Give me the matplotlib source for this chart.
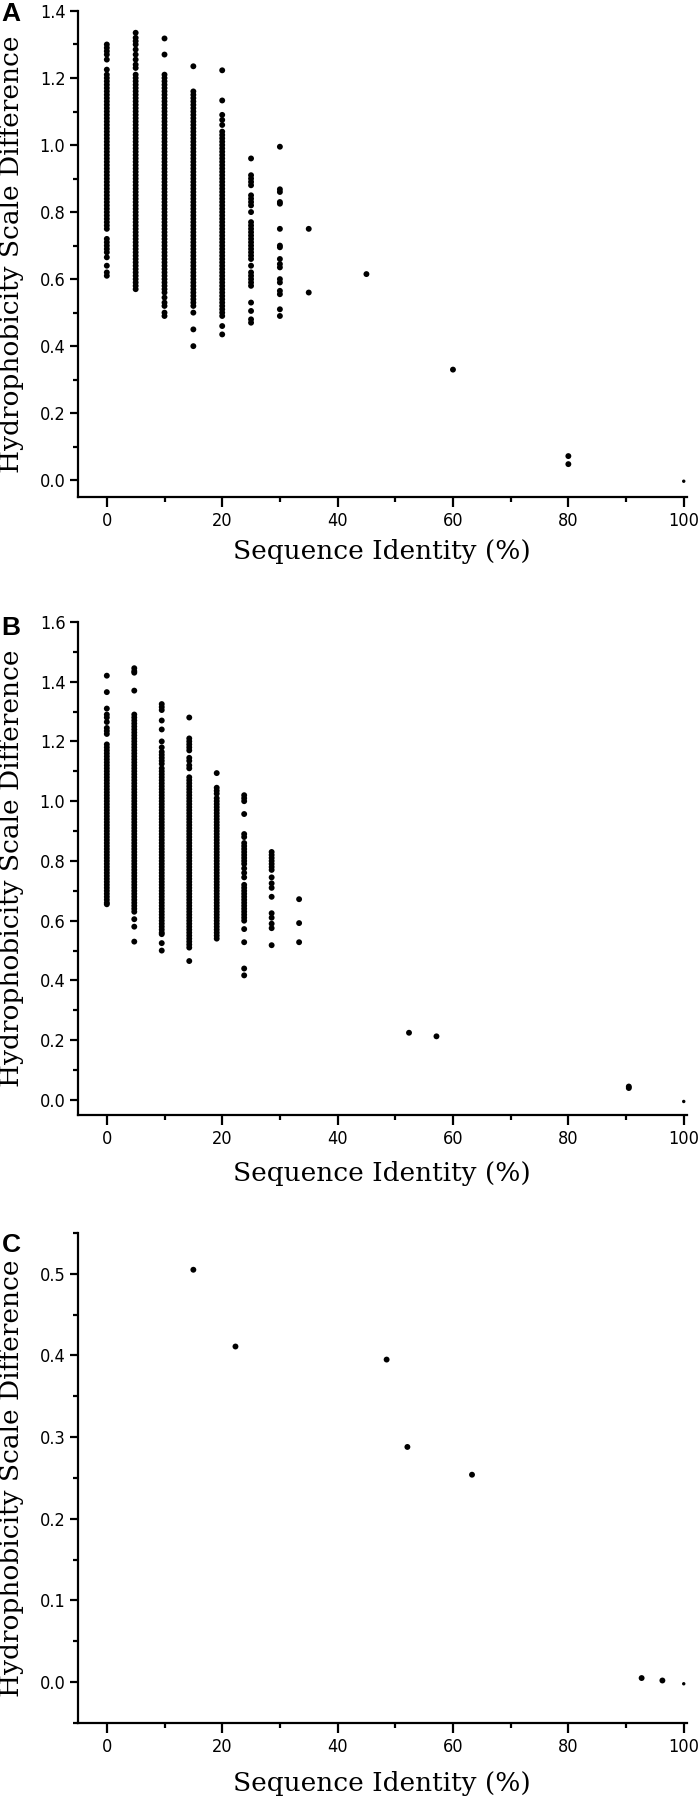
"""Hydrophobicity scale difference against sequence identity, three panels."""

import matplotlib
matplotlib.use("Agg")
import matplotlib.pyplot as plt
from matplotlib import font_manager
from matplotlib.ticker import MultipleLocator


# Panel A: pairs binned at 5 % identity steps
a_identity = [0, 5, 10, 15, 20, 25, 30, 35, 45, 60, 80, 100]
a_diff = [
    [1.30, 1.29, 1.28, 1.27, 1.255, 1.225,
     1.21, 1.20, 1.19, 1.18, 1.17, 1.16, 1.15, 1.14, 1.13, 1.12,
     1.11, 1.10, 1.09, 1.08, 1.07, 1.06, 1.05, 1.04, 1.03, 1.02,
     1.01, 1.00, 0.99, 0.98, 0.97, 0.96, 0.95, 0.94, 0.93, 0.92,
     0.91, 0.90, 0.89, 0.88, 0.87, 0.86, 0.85, 0.84, 0.83, 0.82,
     0.81, 0.80, 0.79, 0.78, 0.77, 0.76, 0.75,
     0.72, 0.71, 0.70, 0.69, 0.68, 0.665, 0.64, 0.62, 0.61],
    [1.335, 1.32, 1.31, 1.30, 1.285, 1.27, 1.255, 1.24, 1.23,
     1.21, 1.20, 1.19, 1.18, 1.17, 1.16, 1.15, 1.14, 1.13, 1.12,
     1.11, 1.10, 1.09, 1.08, 1.07, 1.06, 1.05, 1.04, 1.03, 1.02,
     1.01, 1.00, 0.99, 0.98, 0.97, 0.96, 0.95, 0.94, 0.93, 0.92,
     0.91, 0.90, 0.89, 0.88, 0.87, 0.86, 0.85, 0.84, 0.83, 0.82,
     0.81, 0.80, 0.79, 0.78, 0.77, 0.76, 0.75, 0.74, 0.73, 0.72,
     0.71, 0.70, 0.69, 0.68, 0.67, 0.66, 0.65, 0.64, 0.63, 0.62,
     0.61, 0.60, 0.59, 0.58, 0.57],
    [1.318, 1.27,
     1.21, 1.20, 1.19, 1.18, 1.17, 1.16, 1.15, 1.14, 1.13, 1.12,
     1.11, 1.10, 1.09, 1.08, 1.07, 1.06, 1.05, 1.04, 1.03, 1.02,
     1.01, 1.00, 0.99, 0.98, 0.97, 0.96, 0.95, 0.94, 0.93, 0.92,
     0.91, 0.90, 0.89, 0.88, 0.87, 0.86, 0.85, 0.84, 0.83, 0.82,
     0.81, 0.80, 0.79, 0.78, 0.77, 0.76, 0.75, 0.74, 0.73, 0.72,
     0.71, 0.70, 0.69, 0.68, 0.67, 0.66, 0.65, 0.64, 0.63, 0.62,
     0.61, 0.60, 0.59, 0.58, 0.57, 0.56,
     0.545, 0.53, 0.52, 0.50, 0.49],
    [1.235,
     1.16, 1.15, 1.14, 1.13, 1.12,
     1.11, 1.10, 1.09, 1.08, 1.07, 1.06, 1.05, 1.04, 1.03, 1.02,
     1.01, 1.00, 0.99, 0.98, 0.97, 0.96, 0.95, 0.94, 0.93, 0.92,
     0.91, 0.90, 0.89, 0.88, 0.87, 0.86, 0.85, 0.84, 0.83, 0.82,
     0.81, 0.80, 0.79, 0.78, 0.77, 0.76, 0.75, 0.74, 0.73, 0.72,
     0.71, 0.70, 0.69, 0.68, 0.67, 0.66, 0.65, 0.64, 0.63, 0.62,
     0.61, 0.60, 0.59, 0.58, 0.57, 0.56, 0.55, 0.54, 0.53, 0.52,
     0.50, 0.45, 0.40],
    [1.223, 1.133, 1.09, 1.075, 1.06,
     1.04, 1.03, 1.02,
     1.01, 1.00, 0.99, 0.98, 0.97, 0.96, 0.95, 0.94, 0.93, 0.92,
     0.91, 0.90, 0.89, 0.88, 0.87, 0.86, 0.85, 0.84, 0.83, 0.82,
     0.81, 0.80, 0.79, 0.78, 0.77, 0.76, 0.75, 0.74, 0.73, 0.72,
     0.71, 0.70, 0.69, 0.68, 0.67, 0.66, 0.65, 0.64, 0.63, 0.62,
     0.61, 0.60, 0.59, 0.58, 0.57, 0.56, 0.55, 0.54, 0.53, 0.52,
     0.51, 0.50, 0.49, 0.46, 0.435],
    [0.96, 0.91, 0.90, 0.89, 0.88, 0.85, 0.84, 0.83, 0.82, 0.80,
     0.77, 0.76, 0.75, 0.74, 0.73, 0.72, 0.71, 0.70, 0.69, 0.68,
     0.67, 0.66, 0.64, 0.62, 0.61, 0.60, 0.59, 0.58,
     0.53, 0.505, 0.48, 0.47],
    [0.995, 0.868, 0.86, 0.83, 0.825, 0.75, 0.70, 0.695, 0.66, 0.645,
     0.635, 0.60, 0.59, 0.565, 0.555, 0.51, 0.49],
    [0.75, 0.56],
    [0.615],
    [0.33],
    [0.072, 0.048],
    [-0.003],
]

# Panel B: pairs binned at 1/21 identity steps
b_identity = [0, 4.76, 9.52, 14.29, 19.05, 23.81, 28.57, 33.33,
              52.38, 57.14, 90.48, 100]
b_diff = [
    [1.42, 1.365, 1.31, 1.29, 1.28, 1.265, 1.245, 1.235, 1.225,
     1.19, 1.18, 1.17, 1.16, 1.15, 1.14, 1.13, 1.12,
     1.11, 1.10, 1.09, 1.08, 1.07, 1.06, 1.05, 1.04, 1.03, 1.02,
     1.01, 1.00, 0.99, 0.98, 0.97, 0.96, 0.95, 0.94, 0.93, 0.92,
     0.91, 0.90, 0.89, 0.88, 0.87, 0.86, 0.85, 0.84, 0.83, 0.82,
     0.81, 0.80, 0.79, 0.78, 0.77, 0.76, 0.75, 0.74, 0.73, 0.72,
     0.71, 0.70, 0.69, 0.68, 0.67, 0.66, 0.655],
    [1.445, 1.435, 1.43, 1.37, 1.29, 1.28, 1.27,
     1.26, 1.25, 1.24, 1.23, 1.22,
     1.21, 1.20, 1.19, 1.18, 1.17, 1.16, 1.15, 1.14, 1.13, 1.12,
     1.11, 1.10, 1.09, 1.08, 1.07, 1.06, 1.05, 1.04, 1.03, 1.02,
     1.01, 1.00, 0.99, 0.98, 0.97, 0.96, 0.95, 0.94, 0.93, 0.92,
     0.91, 0.90, 0.89, 0.88, 0.87, 0.86, 0.85, 0.84, 0.83, 0.82,
     0.81, 0.80, 0.79, 0.78, 0.77, 0.76, 0.75, 0.74, 0.73, 0.72,
     0.71, 0.70, 0.69, 0.68, 0.67, 0.66, 0.65, 0.64, 0.63,
     0.605, 0.58, 0.53],
    [1.325, 1.315, 1.305, 1.27, 1.24, 1.20, 1.18,
     1.165, 1.155, 1.145, 1.135, 1.125,
     1.11, 1.10, 1.09, 1.08, 1.07, 1.06, 1.05, 1.04, 1.03, 1.02,
     1.01, 1.00, 0.99, 0.98, 0.97, 0.96, 0.95, 0.94, 0.93, 0.92,
     0.91, 0.90, 0.89, 0.88, 0.87, 0.86, 0.85, 0.84, 0.83, 0.82,
     0.81, 0.80, 0.79, 0.78, 0.77, 0.76, 0.75, 0.74, 0.73, 0.72,
     0.71, 0.70, 0.69, 0.68, 0.67, 0.66, 0.65, 0.64, 0.63, 0.62,
     0.61, 0.60, 0.59, 0.58, 0.57, 0.56, 0.555,
     0.525, 0.50],
    [1.28, 1.21, 1.20, 1.19, 1.18, 1.17, 1.145, 1.135, 1.12, 1.11,
     1.08, 1.07, 1.06, 1.05, 1.04, 1.03, 1.02,
     1.01, 1.00, 0.99, 0.98, 0.97, 0.96, 0.95, 0.94, 0.93, 0.92,
     0.91, 0.90, 0.89, 0.88, 0.87, 0.86, 0.85, 0.84, 0.83, 0.82,
     0.81, 0.80, 0.79, 0.78, 0.77, 0.76, 0.75, 0.74, 0.73, 0.72,
     0.71, 0.70, 0.69, 0.68, 0.67, 0.66, 0.65, 0.64, 0.63, 0.62,
     0.61, 0.60, 0.59, 0.58, 0.57, 0.56, 0.55, 0.54, 0.53, 0.52,
     0.51, 0.465],
    [1.094,
     1.045, 1.035, 1.025,
     1.01, 1.00, 0.99, 0.98, 0.97, 0.96, 0.95, 0.94, 0.93, 0.92,
     0.91, 0.90, 0.89, 0.88, 0.87, 0.86, 0.85, 0.84, 0.83, 0.82,
     0.81, 0.80, 0.79, 0.78, 0.77, 0.76, 0.75, 0.74, 0.73, 0.72,
     0.71, 0.70, 0.69, 0.68, 0.67, 0.66, 0.65, 0.64, 0.63, 0.62,
     0.61, 0.60, 0.59, 0.58, 0.57, 0.56, 0.55, 0.54],
    [1.02, 1.01, 1.00, 0.957, 0.89, 0.88,
     0.86, 0.85, 0.84, 0.83, 0.82, 0.81, 0.80, 0.79, 0.775, 0.76,
     0.745, 0.72, 0.71, 0.70, 0.69, 0.68, 0.67, 0.66, 0.65, 0.64,
     0.63, 0.62, 0.61, 0.60, 0.572, 0.528, 0.44, 0.417],
    [0.83, 0.82, 0.81, 0.80, 0.79, 0.78, 0.77, 0.745, 0.725, 0.71,
     0.68, 0.625, 0.61, 0.59, 0.575, 0.518],
    [0.672, 0.592, 0.528],
    [0.225],
    [0.213],
    [0.045, 0.040],
    [-0.005],
]

# Panel C: individual pairs
c_identity = [15.0, 22.3, 48.5, 52.1, 63.3, 92.7, 96.3, 100]
c_diff = [0.505, 0.411, 0.395, 0.288, 0.254, 0.005, 0.002, -0.002]


# condensed sans for the numbers if the system has one
cond = font_manager.FontProperties(family="DejaVu Sans", stretch="condensed",
                                   size=13)
if "Condensed" in font_manager.findfont(cond, fallback_to_default=False):
    tick_prop = cond
else:
    tick_prop = font_manager.FontProperties(family="Liberation Sans", size=13)
label_font = "DejaVu Serif"

fig = plt.figure(figsize=(6.98, 18), dpi=100)

# axes boxes in figure fractions: left, bottom, width, height
boxes = [
    (0.1117, 0.7239, 0.872, 0.2700),
    (0.1117, 0.3806, 0.872, 0.2739),
    (0.1117, 0.0428, 0.872, 0.2722),
]
ylims = [(-0.05, 1.4), (-0.05, 1.6), (-0.05, 0.55)]
ymajor = [0.2, 0.2, 0.1]
xlabel_y = [-0.087, -0.093, -0.098]
letters = ["A", "B", "C"]
letter_y = [14, 628, 1245]


def flatten(identity, diff):
    xs, ys = [], []
    for x, col in zip(identity, diff):
        xs.extend([x] * len(col))
        ys.extend(col)
    return xs, ys


panels = [flatten(a_identity, a_diff), flatten(b_identity, b_diff),
          (c_identity, c_diff)]

for i, (xs, ys) in enumerate(panels):
    ax = fig.add_axes(boxes[i])
    sizes = [6 if x == 100 else 18 for x in xs]
    ax.scatter(xs, ys, s=sizes, c="black", linewidths=0)

    ax.set_xlim(-5, 100.5)
    ax.set_ylim(*ylims[i])
    ax.xaxis.set_major_locator(MultipleLocator(20))
    ax.xaxis.set_minor_locator(MultipleLocator(10))
    ax.yaxis.set_major_locator(MultipleLocator(ymajor[i]))
    ax.yaxis.set_minor_locator(MultipleLocator(ymajor[i] / 2))
    ax.yaxis.set_major_formatter(plt.FormatStrFormatter("%.1f"))

    for side in ["top", "right"]:
        ax.spines[side].set_visible(False)
    for side in ["left", "bottom"]:
        ax.spines[side].set_linewidth(1.6)

    ax.tick_params(axis="x", which="major", direction="out", length=7,
                   width=1.6, pad=4)
    ax.tick_params(axis="x", which="minor", direction="out", length=3.5,
                   width=1.6)
    ax.tick_params(axis="y", which="major", direction="out", length=6,
                   width=1.6, pad=3)
    ax.tick_params(axis="y", which="minor", direction="out", length=3.5,
                   width=1.6)
    for lab in ax.get_xticklabels() + ax.get_yticklabels():
        lab.set_fontproperties(tick_prop)

    ax.set_xlabel("Sequence Identity (%)", family=label_font, fontsize=19)
    ax.set_ylabel("Hydrophobicity Scale Difference", family=label_font,
                  fontsize=19)
    ax.xaxis.set_label_coords(0.5, xlabel_y[i])
    ax.yaxis.set_label_coords(-0.088, 0.5)

    fig.text(0.002, 1 - letter_y[i] / 1800, letters[i], family="Liberation Sans",
             fontsize=19, fontweight="bold", va="center", ha="left")

fig.savefig("out.png", dpi=100)
